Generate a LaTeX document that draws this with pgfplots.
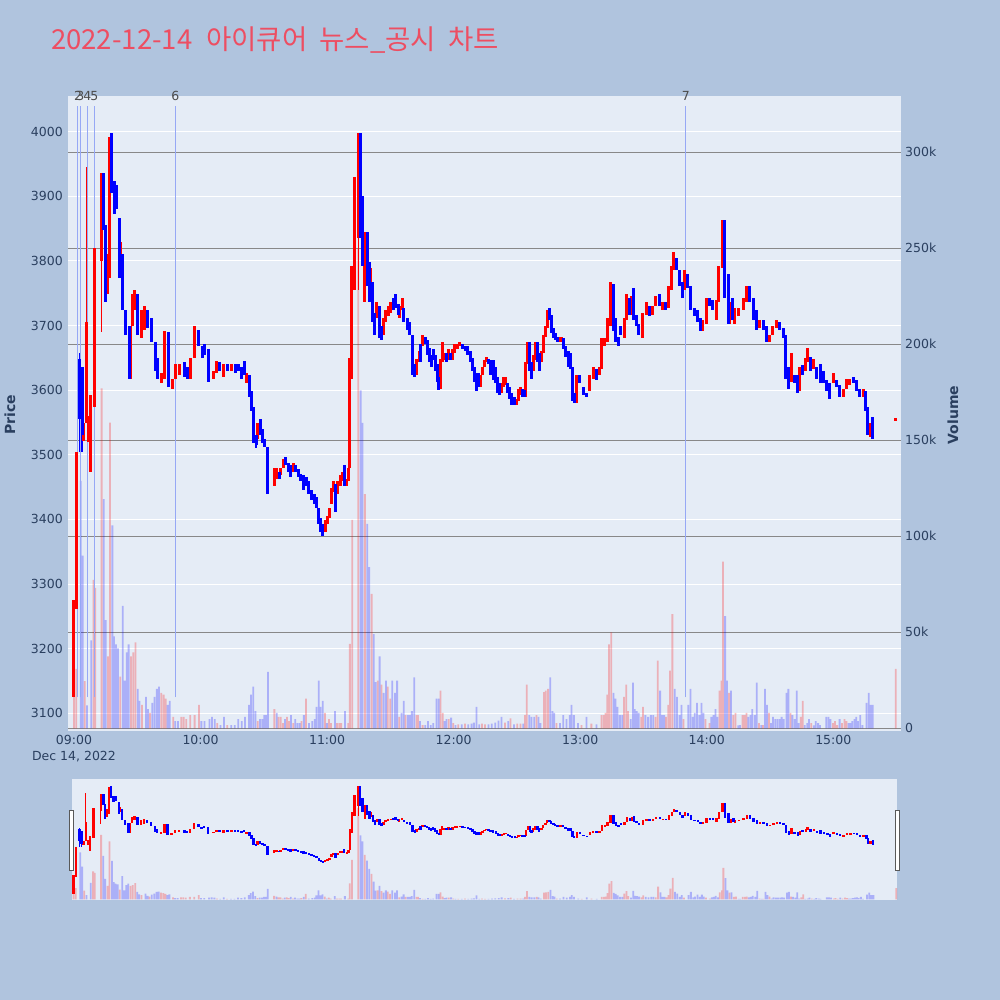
\documentclass[border=0pt]{standalone}
\usepackage{pgfplots}
\pgfplotsset{compat=1.18}
\usepackage{pgfplotstable}
\usepackage{fontspec}
\setmainfont{DejaVu Sans}
\newfontfamily\kr{Noto Sans CJK KR}

\definecolor{pagebg}{RGB}{176,196,222}
\definecolor{plotbg}{RGB}{229,236,246}
\definecolor{upred}{RGB}{255,0,0}
\definecolor{downblue}{RGB}{0,0,255}
\definecolor{txt}{RGB}{42,63,95}
\definecolor{gridgray}{RGB}{136,136,136}
\definecolor{newsline}{RGB}{150,168,245}
\definecolor{titlered}{RGB}{237,78,98}
\newcommand\ticksize{\fontsize{12.5}{16.5}\selectfont}

% candle bodies: t, lo, hi
\pgfplotstableread{
t lo hi
0.0 3125 3275
1.1 3262 3505
4.7 3521 3549
5.8 3549 3705
6.9 3520 3560
7.9 3474 3593
9.5 3574 3820
12.9 3800 3936
15.8 3749 3811
16.9 3774 3992
22.1 3786 3830
26.9 3618 3699
27.6 3699 3749
28.8 3724 3755
31.9 3680 3724
33.5 3693 3730
41.4 3611 3627
43.0 3618 3692
46.5 3602 3618
48.0 3618 3640
50.1 3624 3640
55.3 3618 3649
57.2 3649 3699
66.2 3618 3630
67.8 3627 3645
71.1 3620 3640
74.9 3630 3640
82.0 3611 3627
87.1 3524 3549
94.9 3452 3480
96.1 3462 3480
98.1 3468 3480
99.2 3480 3493
103.9 3474 3487
119.1 3381 3399
120.2 3393 3405
121.2 3402 3418
122.1 3424 3449
123.1 3443 3459
125.1 3440 3459
126.2 3452 3468
127.2 3459 3474
129.4 3452 3462
130.2 3459 3480
130.8 3480 3649
131.8 3618 3792
133.0 3755 3930
134.8 3836 3998
137.9 3736 3845
140.8 3749 3789
143.6 3711 3736
146.8 3686 3711
147.7 3705 3724
149.0 3714 3730
150.2 3720 3736
154.2 3711 3730
155.6 3724 3743
162.4 3624 3649
163.7 3643 3660
165.2 3668 3686
173.8 3602 3649
174.6 3643 3674
175.7 3646 3658
177.6 3646 3664
179.5 3646 3664
180.6 3658 3671
181.7 3664 3671
183.0 3668 3674
192.7 3605 3624
193.7 3624 3636
194.6 3636 3646
195.6 3643 3652
202.9 3596 3611
203.8 3605 3621
204.7 3608 3621
209.8 3577 3586
210.7 3583 3602
211.7 3593 3605
214.2 3590 3643
215.2 3640 3674
217.7 3630 3655
218.7 3646 3674
221.5 3643 3661
222.4 3658 3686
223.4 3683 3699
224.3 3696 3724
230.0 3674 3683
231.0 3674 3683
238.4 3580 3624
244.5 3599 3624
246.1 3618 3636
249.0 3624 3636
250.1 3633 3680
251.7 3668 3680
252.9 3674 3711
254.2 3699 3767
260.8 3680 3711
262.1 3708 3749
264.3 3717 3746
269.7 3680 3720
271.3 3717 3736
274.3 3717 3730
275.8 3730 3746
279.2 3724 3736
282.0 3727 3761
283.3 3755 3792
284.2 3786 3814
289.6 3755 3786
298.1 3692 3708
299.7 3702 3743
304.4 3708 3739
305.7 3736 3792
307.3 3789 3864
311.0 3702 3736
313.3 3702 3727
315.2 3714 3727
317.2 3724 3742
318.8 3736 3761
325.1 3696 3708
329.9 3674 3686
331.4 3686 3699
333.0 3696 3708
340.0 3612 3658
343.9 3599 3636
346.8 3630 3649
347.6 3643 3665
350.6 3633 3649
359.9 3611 3627
364.6 3590 3602
366.2 3602 3618
367.8 3608 3618
374.1 3590 3602
377.4 3527 3549
389.6 3553 3557
}\upbody

\pgfplotstableread{
t lo hi
2.8 3555 3649
3.8 3530 3636
14.2 3848 3936
15.0 3736 3855
17.9 3905 3998
19.0 3873 3923
20.2 3880 3917
21.5 3774 3867
23.1 3724 3811
24.5 3686 3724
26.1 3618 3699
30.3 3686 3749
34.7 3696 3724
36.6 3674 3711
38.5 3630 3674
39.5 3618 3650
44.6 3605 3690
52.5 3621 3643
53.7 3618 3636
59.1 3668 3693
60.7 3649 3668
61.9 3655 3671
63.8 3612 3664
69.1 3630 3643
73.0 3630 3640
76.6 3627 3640
77.9 3630 3640
79.5 3618 3636
80.7 3624 3645
83.3 3590 3624
84.2 3568 3599
85.3 3518 3574
86.3 3515 3530
88.2 3530 3555
89.4 3518 3540
90.5 3512 3525
91.8 3440 3512
97.2 3462 3474
100.3 3484 3496
101.6 3474 3487
102.8 3465 3484
105.1 3474 3484
106.3 3465 3478
107.6 3459 3471
108.9 3446 3468
110.1 3452 3465
111.4 3440 3459
112.7 3430 3446
113.9 3424 3440
115.0 3418 3434
116.1 3393 3418
117.1 3381 3402
118.0 3374 3393
124.0 3412 3455
128.1 3452 3484
135.7 3836 3998
136.8 3792 3901
139.0 3761 3845
140.1 3736 3799
141.7 3705 3767
142.7 3686 3720
144.9 3680 3730
145.8 3677 3700
151.4 3724 3742
152.5 3727 3749
153.7 3717 3733
156.4 3705 3727
158.0 3693 3711
159.2 3686 3705
160.5 3624 3686
161.6 3621 3640
164.3 3643 3671
166.5 3671 3683
167.5 3655 3677
168.4 3643 3665
169.4 3636 3655
170.3 3646 3664
171.2 3630 3655
172.2 3612 3640
173.0 3600 3620
176.6 3643 3658
178.5 3646 3658
184.2 3664 3671
185.5 3661 3668
186.7 3655 3668
188.0 3643 3661
188.9 3630 3649
189.9 3612 3636
190.8 3599 3627
191.8 3605 3627
196.5 3640 3649
197.5 3624 3646
198.7 3615 3646
200.0 3611 3636
201.0 3596 3621
201.9 3593 3611
205.7 3596 3611
206.6 3586 3605
207.6 3577 3596
208.9 3577 3590
212.6 3590 3602
213.6 3590 3600
216.1 3630 3674
216.9 3618 3643
219.6 3643 3674
220.5 3630 3658
225.3 3708 3727
226.2 3689 3717
227.2 3680 3696
228.1 3677 3689
229.1 3674 3683
231.9 3664 3680
233.0 3652 3668
234.3 3636 3661
235.3 3633 3658
236.2 3583 3636
237.1 3580 3596
239.8 3611 3624
241.4 3593 3605
243.0 3590 3596
247.7 3615 3633
255.6 3692 3764
256.9 3674 3711
258.0 3668 3683
259.2 3686 3699
263.4 3717 3742
265.4 3708 3758
266.5 3699 3717
267.8 3686 3702
272.8 3714 3730
277.6 3730 3749
280.6 3724 3736
285.5 3786 3805
287.1 3761 3786
288.3 3742 3767
291.0 3758 3780
292.4 3724 3761
294.0 3714 3727
295.6 3705 3724
296.9 3692 3711
301.3 3730 3742
302.9 3724 3739
308.5 3742 3864
310.1 3702 3780
312.4 3708 3742
320.4 3736 3761
322.0 3708 3742
323.5 3693 3724
326.7 3693 3708
328.3 3674 3699
334.6 3693 3705
336.2 3680 3696
337.4 3618 3686
338.7 3602 3636
341.4 3611 3624
343.0 3596 3624
345.2 3624 3639
349.0 3630 3652
352.1 3618 3636
353.7 3611 3640
355.3 3611 3630
356.9 3599 3615
358.3 3586 3611
361.5 3605 3615
363.0 3590 3608
369.4 3611 3621
370.9 3599 3615
372.5 3590 3602
375.4 3568 3599
376.3 3530 3574
378.5 3524 3558
}\downbody

% wicks
\pgfplotstableread{
t lo hi
5.8 3549 3945
12.9 3690 3936
134.8 3755 3998
}\upwick
\pgfplotstableread{
t lo hi
2.8 3505 3658
3.8 3505 3636
86.3 3510 3530
}\downwick

% volume in thousands
\pgfplotstableread{
t v
0.0 37
1.1 31
5.1 24.6
9.3 77.3
10.1 73.1
13.1 177
16.1 37.4
17.1 159.2
21.9 26.9
27.0 37.4
28.1 39.5
29.2 44.8
32.2 12.2
36.0 8
41.4 18.5
42.5 17.5
43.5 15.4
47.1 5.9
50.9 5.9
52.0 5.9
53.2 4.8
55.1 6.9
57.2 6.9
59.3 12.2
67.9 2.7
72.7 1.7
87.1 3.8
95.0 10
97.0 5.9
98.0 5.9
99.1 2.7
101.0 5.9
101.9 3.8
104.0 2.7
107.9 3.8
110.0 15.4
119.0 8
120.9 4.8
121.8 2.7
124.7 2.7
125.8 2.7
126.7 2.7
130.1 2.7
130.8 44
131.9 108.6
134.8 250
137.9 122
141.1 70
144.0 24.8
145.8 22.7
148.8 21.7
149.9 15.4
154.2 5.9
157.2 6.9
162.4 6.9
163.1 6.9
165.3 1.7
173.8 19.6
174.8 8
177.7 4.8
179.8 2.7
182.2 2
185.4 2.5
193.4 2.5
194.9 2
204.3 3
207.0 5.2
210.2 2.5
211.7 2.5
213.8 6.9
214.7 22.7
219.3 6.9
222.8 18.8
223.7 19.6
224.8 20.6
228.8 2.7
240.6 1.7
245.3 2.5
250.1 6.9
251.2 6.9
252.0 8
252.8 17.5
253.7 43.7
254.7 50
260.8 16.4
261.8 22.7
262.7 9
268.9 5.9
269.8 11.2
275.7 5.9
276.8 35.3
280.7 5.9
281.7 12.2
282.6 30
283.7 59.5
289.0 4.8
299.4 4.8
301.3 2.7
306.0 19.6
307.0 24.8
307.7 86.8
310.6 18.5
312.6 6.9
313.6 8
316.9 6.9
317.9 6.9
318.8 8
324.8 2.7
326.7 1.7
329.5 8
339.7 8
344.6 5.9
345.5 14.3
349.5 2.7
359.9 2.7
360.8 3.8
361.8 1.7
364.1 2.7
365.3 4.8
366.2 3.8
389.6 31
}\upvol

\pgfplotstableread{
t v
3.2 128.8
4.1 89.9
6.2 12
8.2 45.8
14.1 119.3
15.0 56.3
18.2 105.7
19.0 47.9
19.9 43.7
20.9 41.6
23.1 63.7
24.0 24.8
25.0 39.5
25.9 43.7
30.2 20.6
31.1 14.3
34.1 16.4
35.1 10
37.1 13.3
38.2 16.4
39.3 20.6
40.3 21.7
44.4 12.2
45.4 14.3
48.0 3.8
49.3 3.8
60.4 3.8
61.9 3.8
64.2 4.8
65.4 5.9
66.7 4.8
69.5 1.7
71.1 5.9
74.6 1.7
76.2 1.7
77.9 4.8
79.5 3.8
81.1 5.9
83.0 12.2
83.9 17.5
85.0 21.7
86.1 9
88.2 4.8
89.3 4.8
90.2 6.9
91.2 6.9
92.0 29.4
96.1 8
100.0 4.8
102.9 6.9
104.9 4.8
106.0 2.7
107.0 2.7
109.0 6.9
111.4 2.7
113.0 3.8
114.2 4.8
115.0 11.2
116.0 24.8
116.9 11.2
117.9 14.3
119.9 2.7
123.7 9
128.5 9
135.9 176
136.8 159
139.0 106.5
140.0 84
142.1 49
143.0 24
144.9 37.4
146.8 18.5
147.9 24.8
150.9 24.8
152.2 18.5
153.2 24.8
155.3 8
156.3 14.3
158.2 6.9
159.2 6.9
160.2 9
161.3 26.5
164.0 3.8
166.5 1.7
167.8 3.8
169.1 1.7
170.3 2.7
171.9 15.4
172.9 15.4
175.7 3.8
176.6 4.8
178.8 5.5
180.9 1.7
183.8 2
186.9 2
188.5 2.5
189.6 3
190.8 11.2
192.1 2
196.5 2
198.1 2.5
199.7 3
201.3 4
202.7 5.9
205.9 3.8
208.6 2
213.0 2.5
215.8 6.9
216.9 5.9
218.2 5.9
220.2 5.9
221.2 2.7
225.8 26.5
226.9 9
227.7 8
230.4 2.7
232.0 6.9
233.5 4.8
235.1 6.9
235.9 12.2
237.0 6.9
239.0 2.7
243.0 5.9
247.7 2
255.8 18.4
256.7 15.4
257.7 11.2
258.8 6.9
259.9 6.9
264.0 4.8
265.0 23.8
265.9 10
266.8 9
267.8 8
270.9 6.9
272.2 5.9
273.5 6.9
274.6 6.9
277.9 19.6
278.8 6.9
279.8 6.9
284.8 20.6
285.9 16.4
287.1 6.9
288.0 12.2
291.2 12.2
292.3 20.6
293.4 5.9
294.3 8
295.4 13.3
296.5 6.9
297.5 13.3
298.4 8
302.2 5.9
303.2 6.9
304.1 10
305.1 5.9
308.7 58.4
309.6 24.8
311.5 19.6
314.9 1.5
315.8 1.7
319.7 5.9
320.7 6.9
321.6 10
322.8 6.9
323.7 23.8
325.8 1.7
327.6 20.6
328.6 12.2
330.5 2.7
331.4 5.9
332.5 4.8
333.5 4.8
334.6 4.8
335.5 5.9
336.5 4.8
337.8 18.5
338.7 20.6
340.6 6.9
341.7 4.8
342.7 19.6
343.6 2.7
346.5 1.7
347.6 2.7
348.5 4.8
350.7 1.5
351.7 3.8
352.8 2.7
353.7 1.7
356.7 5.9
357.7 5.9
358.6 4.8
363.0 4.8
367.2 2.7
368.1 2.7
369.0 3.8
370.0 4.8
370.9 5.9
371.7 3.8
372.8 6.9
373.8 1.7
375.7 13.3
376.8 18.5
377.7 12.2
378.7 12.2
}\downvol

\pgfplotsset{
  candle/.style n args={2}{draw=none, mark=none, forget plot,
    error bars/.cd, y dir=both, y explicit, error mark=none,
    error bar style={draw=#1, line width=#2}},
  volbar/.style={ybar, bar width=1.8pt, bar shift=0pt, draw=none, fill=#1, fill opacity=0.25, forget plot},
}
\newcommand\candles[2]{%
  \addplot[candle={downblue}{#2}] table[x=t, y expr=(\thisrow{lo}+\thisrow{hi})/2, y error expr=(\thisrow{hi}-\thisrow{lo})/2]{\downwick};
  \addplot[candle={upred}{#2}] table[x=t, y expr=(\thisrow{lo}+\thisrow{hi})/2, y error expr=(\thisrow{hi}-\thisrow{lo})/2]{\upwick};
  \addplot[candle={upred}{#1}] table[x=t, y expr=(\thisrow{lo}+\thisrow{hi})/2, y error expr=(\thisrow{hi}-\thisrow{lo})/2]{\upbody};
  \addplot[candle={downblue}{#1}] table[x=t, y expr=(\thisrow{lo}+\thisrow{hi})/2, y error expr=(\thisrow{hi}-\thisrow{lo})/2]{\downbody};
}

\begin{document}
\begin{tikzpicture}
\fill[pagebg] (0pt,0pt) rectangle (1000pt,1000pt);
\useasboundingbox (0pt,0pt) rectangle (1000pt,1000pt);

% price axis: background, grid, ticks
\begin{axis}[
  at={(68pt,269pt)}, anchor=south west, scale only axis,
  width=833pt, height=635pt,
  xmin=-2.84, xmax=392.1, ymin=3072.6, ymax=4055.2,
  axis background/.style={fill=plotbg},
  axis line style={draw=none}, tick style={draw=none},
  ytick={3100,3200,...,4000},
  yticklabels={3100,3200,3300,3400,3500,3600,3700,3800,3900,4000},
  xtick={0,60,...,360},
  xticklabels={{09:00\\Dec 14, 2022},10:00,11:00,12:00,13:00,14:00,15:00},
  xticklabel style={align=center, anchor=north, inner sep=0pt, yshift=-4pt},
  yticklabel style={anchor=east, inner sep=0pt, xshift=-5pt},
  ticklabel style={font=\ticksize, text=txt},
  ymajorgrids, major grid style={white, line width=1pt},
]
\end{axis}

% volume axis
\begin{axis}[
  at={(68pt,269pt)}, anchor=south west, scale only axis,
  width=833pt, height=635pt,
  xmin=-2.84, xmax=392.1, ymin=-1.4, ymax=329.3,
  axis line style={draw=none}, tick style={draw=none},
  xtick=\empty,
  ytick={0,50,...,300},
  yticklabels={0,50k,100k,150k,200k,250k,300k},
  yticklabel pos=right,
  yticklabel style={anchor=west, inner sep=0pt, xshift=4pt, font=\ticksize, text=txt},
  ymajorgrids, major grid style={gridgray, line width=1.2pt},
]
\addplot[volbar=upred] table[x=t, y=v]{\upvol};
\addplot[volbar=downblue] table[x=t, y=v]{\downvol};
\end{axis}

% candles and news lines
\begin{axis}[
  at={(68pt,269pt)}, anchor=south west, scale only axis,
  width=833pt, height=635pt,
  xmin=-2.84, xmax=392.1, ymin=3072.6, ymax=4055.2,
  hide axis, clip=false,
]
\addplot[newsline, line width=1pt] coordinates {(1.9,3125) (1.9,4040)};
\addplot[newsline, line width=1pt] coordinates {(3.0,3125) (3.0,4040)};
\addplot[newsline, line width=1pt] coordinates {(6.3,3125) (6.3,4040)};
\addplot[newsline, line width=1pt] coordinates {(9.6,3125) (9.6,4040)};
\addplot[newsline, line width=1pt] coordinates {(48.0,3125) (48.0,4040)};
\addplot[newsline, line width=1pt] coordinates {(290.1,3125) (290.1,4040)};
\candles{3pt}{1.2pt}
\node[font=\ticksize, text=black!70, inner sep=0pt] at (axis cs:1.9,4055.2) {2};
\node[font=\ticksize, text=black!70, inner sep=0pt] at (axis cs:3.0,4055.2) {3};
\node[font=\ticksize, text=black!70, inner sep=0pt] at (axis cs:6.3,4055.2) {4};
\node[font=\ticksize, text=black!70, inner sep=0pt] at (axis cs:9.6,4055.2) {5};
\node[font=\ticksize, text=black!70, inner sep=0pt] at (axis cs:48.0,4055.2) {6};
\node[font=\ticksize, text=black!70, inner sep=0pt] at (axis cs:290.1,4055.2) {7};
\end{axis}

% range slider
\begin{axis}[
  at={(72pt,100pt)}, anchor=south west, scale only axis,
  width=825pt, height=120.7pt,
  xmin=-0.7, xmax=389.9, ymin=-1.4, ymax=329.3,
  axis background/.style={fill=plotbg},
  axis line style={draw=none}, tick style={draw=none},
  xtick=\empty, ytick=\empty,
]
\addplot[volbar=upred] table[x=t, y=v]{\upvol};
\addplot[volbar=downblue] table[x=t, y=v]{\downvol};
\end{axis}
\begin{axis}[
  at={(72pt,100pt)}, anchor=south west, scale only axis,
  width=825pt, height=120.7pt,
  xmin=-0.7, xmax=389.9, ymin=3072.6, ymax=4055.2,
  hide axis,
]
\candles{2.4pt}{1pt}
\end{axis}
\draw[fill=white, draw=black!65, line width=0.8pt] (69.5pt,130pt) rectangle (73.7pt,190pt);
\draw[fill=white, draw=black!65, line width=0.8pt] (895pt,130pt) rectangle (899.2pt,190pt);

% title and axis titles
\node[anchor=base west, inner sep=0pt, text=titlered, font=\kr\fontsize{27.5}{32}\selectfont] at (51pt,950pt)
  {2022-12-14\hspace{14pt}아이큐어\hspace{12pt}뉴스\_공시\hspace{12pt}차트};
\node[rotate=90, inner sep=0pt, text=txt, font=\bfseries\fontsize{14}{16}\selectfont] at (10pt,585pt) {Price};
\node[rotate=90, inner sep=0pt, text=txt, font=\bfseries\fontsize{14}{16}\selectfont] at (953pt,585pt) {Volume};
\end{tikzpicture}
\end{document}
